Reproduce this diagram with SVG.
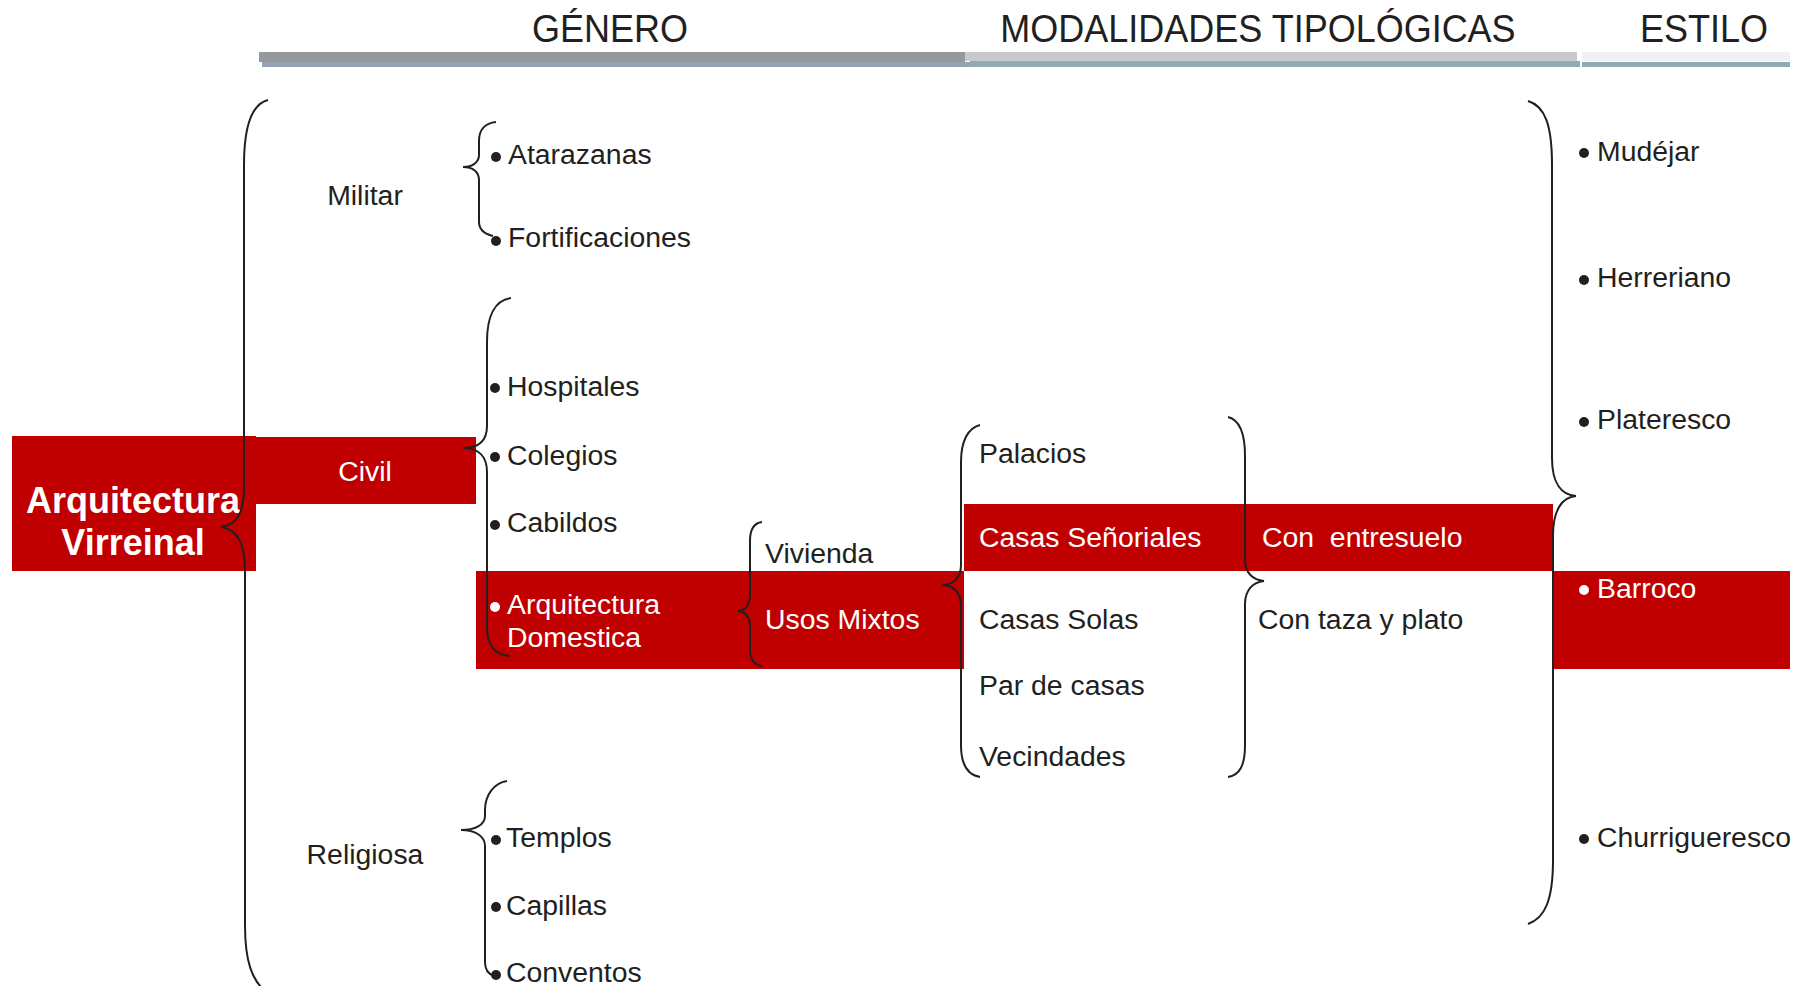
<svg xmlns="http://www.w3.org/2000/svg" width="1808" height="986" viewBox="0 0 1808 986">
<style>
  text { font-family: "Liberation Sans", Arial, sans-serif; font-size: 28.4px; fill: #231f20; }
  .hdr { font-size: 36px; text-anchor: middle; }
  .w { fill: #ffffff; }
  .title { font-size: 36px; font-weight: bold; fill: #ffffff; text-anchor: middle; }
  .mid { text-anchor: middle; }
  .red { fill: #c00000; }
  .dot { fill: #231f20; }
  .wdot { fill: #ffffff; }
  .brace { fill: none; stroke: #231f20; stroke-width: 2; }
  .pre { white-space: pre; }
</style>
<rect x="0" y="0" width="1808" height="986" fill="#ffffff"/>

<g id="header">
  <rect x="259" y="52" width="706" height="10" fill="#97989c"/>
  <rect x="262" y="62" width="708" height="5" fill="#94a2b4"/>
  <rect x="965" y="52" width="612" height="9" fill="#c8c9cb"/>
  <rect x="970" y="61" width="610" height="6" fill="#8facb0"/>
  <rect x="1582" y="52" width="208" height="9" fill="#eff1f4"/>
  <rect x="1582" y="62" width="208" height="5" fill="#8facb0"/>
  <text class="hdr" transform="translate(610,42) scale(1,1.07)">GÉNERO</text>
  <text class="hdr" transform="translate(1258,42) scale(1,1.07)">MODALIDADES TIPOLÓGICAS</text>
  <text class="hdr" transform="translate(1704,42) scale(1,1.07)">ESTILO</text>
</g>

<g id="arquitectura-virreinal">
  <rect class="red" x="12" y="436" width="244" height="135"/>
  <text class="title" x="133" y="513">Arquitectura</text>
  <text class="title" x="133" y="555">Virreinal</text>
</g>

<g id="militar">
  <text class="mid" x="365" y="205">Militar</text>
</g>
<g id="atarazanas">
  <circle class="dot" cx="496" cy="157" r="5"/>
  <text x="508" y="164">Atarazanas</text>
</g>
<g id="fortificaciones">
  <circle class="dot" cx="496" cy="241" r="5"/>
  <text x="508" y="247">Fortificaciones</text>
</g>

<g id="civil">
  <rect class="red" x="256" y="437" width="220" height="67"/>
  <text class="w mid" x="365" y="481">Civil</text>
</g>
<g id="hospitales">
  <circle class="dot" cx="495" cy="388" r="5"/>
  <text x="507" y="396">Hospitales</text>
</g>
<g id="colegios">
  <circle class="dot" cx="495" cy="457" r="5"/>
  <text x="507" y="465">Colegios</text>
</g>
<g id="cabildos">
  <circle class="dot" cx="495" cy="525" r="5"/>
  <text x="507" y="532">Cabildos</text>
</g>
<g id="arquitectura-domestica">
  <rect class="red" x="476" y="571" width="264" height="98"/>
  <circle class="wdot" cx="495" cy="607" r="5"/>
  <text class="w" x="507" y="614">Arquitectura</text>
  <text class="w" x="507" y="647">Domestica</text>
</g>
<g id="vivienda">
  <text x="765" y="563">Vivienda</text>
</g>
<g id="usos-mixtos">
  <rect class="red" x="740" y="571" width="224" height="98"/>
  <text class="w" x="765" y="629">Usos Mixtos</text>
</g>

<g id="palacios">
  <text x="979" y="463">Palacios</text>
</g>
<g id="casas-senoriales">
  <rect class="red" x="964" y="504" width="286" height="67"/>
  <text class="w" x="979" y="547">Casas Señoriales</text>
</g>
<g id="casas-solas">
  <text x="979" y="629">Casas Solas</text>
</g>
<g id="par-de-casas">
  <text x="979" y="695">Par de casas</text>
</g>
<g id="vecindades">
  <text x="979" y="766">Vecindades</text>
</g>
<g id="con-entresuelo">
  <rect class="red" x="1250" y="504" width="303" height="67"/>
  <text class="w pre" x="1262" y="547" xml:space="preserve">Con  entresuelo</text>
</g>
<g id="con-taza-y-plato">
  <text x="1258" y="629">Con taza y plato</text>
</g>

<g id="religiosa">
  <text class="mid" x="365" y="864">Religiosa</text>
</g>
<g id="templos">
  <circle class="dot" cx="496" cy="840" r="5"/>
  <text x="506" y="847">Templos</text>
</g>
<g id="capillas">
  <circle class="dot" cx="496" cy="907" r="5"/>
  <text x="506" y="915">Capillas</text>
</g>
<g id="conventos">
  <circle class="dot" cx="496" cy="975" r="5"/>
  <text x="506" y="982">Conventos</text>
</g>

<g id="mudejar">
  <circle class="dot" cx="1584" cy="153" r="5"/>
  <text x="1597" y="161">Mudéjar</text>
</g>
<g id="herreriano">
  <circle class="dot" cx="1584" cy="280" r="5"/>
  <text x="1597" y="287">Herreriano</text>
</g>
<g id="plateresco">
  <circle class="dot" cx="1584" cy="422" r="5"/>
  <text x="1597" y="429">Plateresco</text>
</g>
<g id="barroco">
  <rect class="red" x="1552" y="571" width="238" height="98"/>
  <circle class="wdot" cx="1584" cy="590" r="5"/>
  <text class="w" x="1597" y="598">Barroco</text>
</g>
<g id="churrigueresco">
  <circle class="dot" cx="1584" cy="839" r="5"/>
  <text x="1597" y="847">Churrigueresco</text>
</g>

<g id="connectors">
  <path class="brace" d="M268,100 C252,104 244,125 244,165 L244,488 C244,514 236,525 221,527 C236,529 245,542 245,570 L245,925 C245,962 252,980 266,992"/>
  <path class="brace" d="M496,122 C485,123 479,130 479,141 L479,155 C479,162 473,167 463,167 C473,167 479,172 479,180 L479,222 C479,230 485,234 493,236"/>
  <path class="brace" d="M511,298 C495,300 487,316 487,342 L487,426 C487,441 478,448 463,448 C478,448 487,456 487,472 L487,628 C487,647 497,655 510,656"/>
  <path class="brace" d="M762,522 C754,523 750,530 750,541 L750,595 C750,605 745,611 737,611 C745,611 750,617 750,627 L750,649 C750,660 754,665 762,666"/>
  <path class="brace" d="M980,425 C968,428 961,441 961,462 L961,565 C961,578 953,585 942,585 C953,585 961,592 961,606 L961,745 C961,765 968,775 980,777"/>
  <path class="brace" d="M1228,417 C1240,420 1245,435 1245,456 L1245,560 C1245,573 1253,580 1264,581 C1253,582 1245,590 1245,604 L1245,745 C1245,765 1240,775 1228,777"/>
  <path class="brace" d="M1528,101 C1545,106 1552,125 1552,165 L1552,458 C1552,484 1562,495 1576,496 C1562,497 1553,510 1553,536 L1553,860 C1553,900 1545,918 1528,924"/>
  <path class="brace" d="M507,781 C494,783 485,795 485,810 L485,816 C485,825 475,830 461,830 C475,830 485,836 485,846 L485,962 C485,970 488,974 494,976"/>
</g>
</svg>
